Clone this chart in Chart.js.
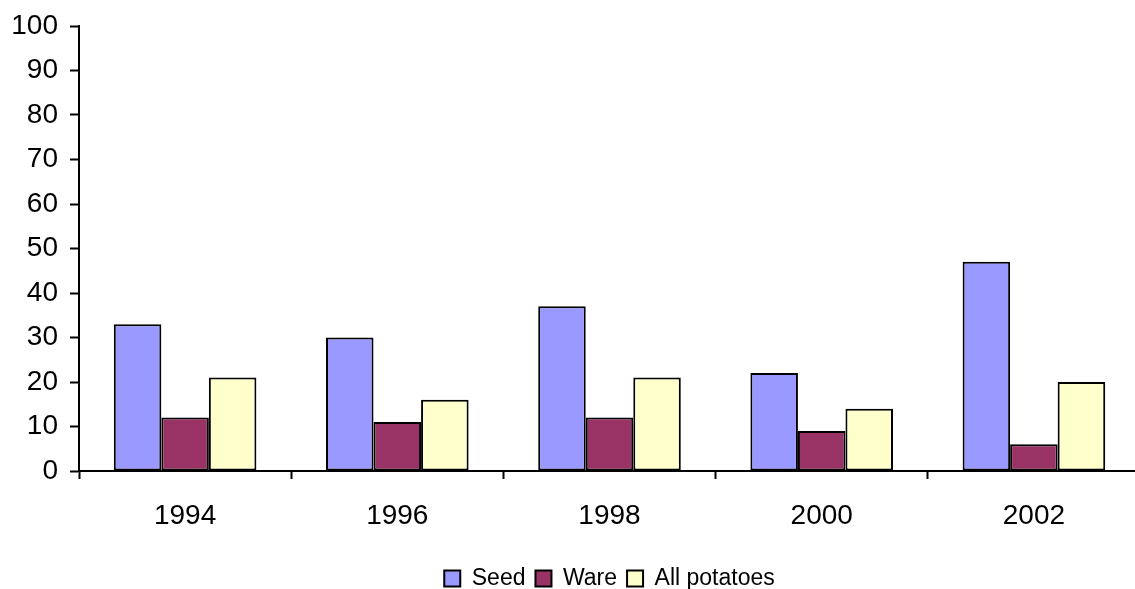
<!DOCTYPE html>
<html>
<head>
<meta charset="utf-8">
<script src="https://cdn.jsdelivr.net/npm/chart.js@4/dist/chart.umd.min.js"></script>
<style>
  html, body { margin: 0; padding: 0; background: #fff; overflow: hidden; }
  #wrap { width: 1135px; height: 589px; position: relative; overflow: hidden; }
</style>
</head>
<body>
<div id="wrap"><canvas id="c" width="1140" height="589"></canvas></div>
<script>
const years = ['1994', '1996', '1998', '2000', '2002'];
const seed = [33, 30, 37, 22, 47];
const ware = [12, 11, 12, 9, 6];
const allPotatoes = [21, 16, 21, 14, 20];
const yTicks = [0, 10, 20, 30, 40, 50, 60, 70, 80, 90, 100];

const FONT = '"Liberation Sans", Arial, sans-serif';

new Chart(document.getElementById('c'), {
  type: 'bar',
  data: {
    labels: years,
    datasets: [
      { label: 'Seed', data: seed, backgroundColor: '#9999FF' },
      { label: 'Ware', data: ware, backgroundColor: '#993366' },
      { label: 'All potatoes', data: allPotatoes, backgroundColor: '#FFFFCC' }
    ].map(d => Object.assign(d, { borderColor: '#000', borderWidth: 2, borderSkipped: false }))
  },
  options: {
    responsive: false,
    animation: false,
    layout: { padding: { left: 0, right: 0, top: 0, bottom: -11 } },
    datasets: { bar: { categoryPercentage: 0.672, barPercentage: 1 } },
    plugins: {
      tooltip: { enabled: false },
      legend: {
        position: 'bottom',
        fullSize: false,
        labels: {
          color: '#000',
          font: { family: FONT, size: 23 },
          boxWidth: 16, boxHeight: 16, padding: 10,
          useBorderRadius: false
        }
      }
    },
    scales: {
      x: {
        offset: true,
        grid: { offset: true, drawOnChartArea: false, tickLength: 8, tickColor: '#000', tickWidth: 2 },
        border: { color: '#000', width: 2 },
        ticks: { color: '#000', font: { family: FONT, size: 28 }, padding: 20, maxRotation: 0 },
        afterFit: s => { s.height = 86; }
      },
      y: {
        min: 0, max: 100,
        afterBuildTicks: s => { s.ticks = yTicks.map(v => ({ value: v })); },
        grid: { drawOnChartArea: false, tickLength: 9, tickColor: '#000', tickWidth: 2 },
        border: { color: '#000', width: 2 },
        ticks: { color: '#000', font: { family: FONT, size: 28, lineHeight: 1 }, padding: 12 },
        afterFit: s => { s.width = 79; }
      }
    }
  }
});
</script>
</body>
</html>
